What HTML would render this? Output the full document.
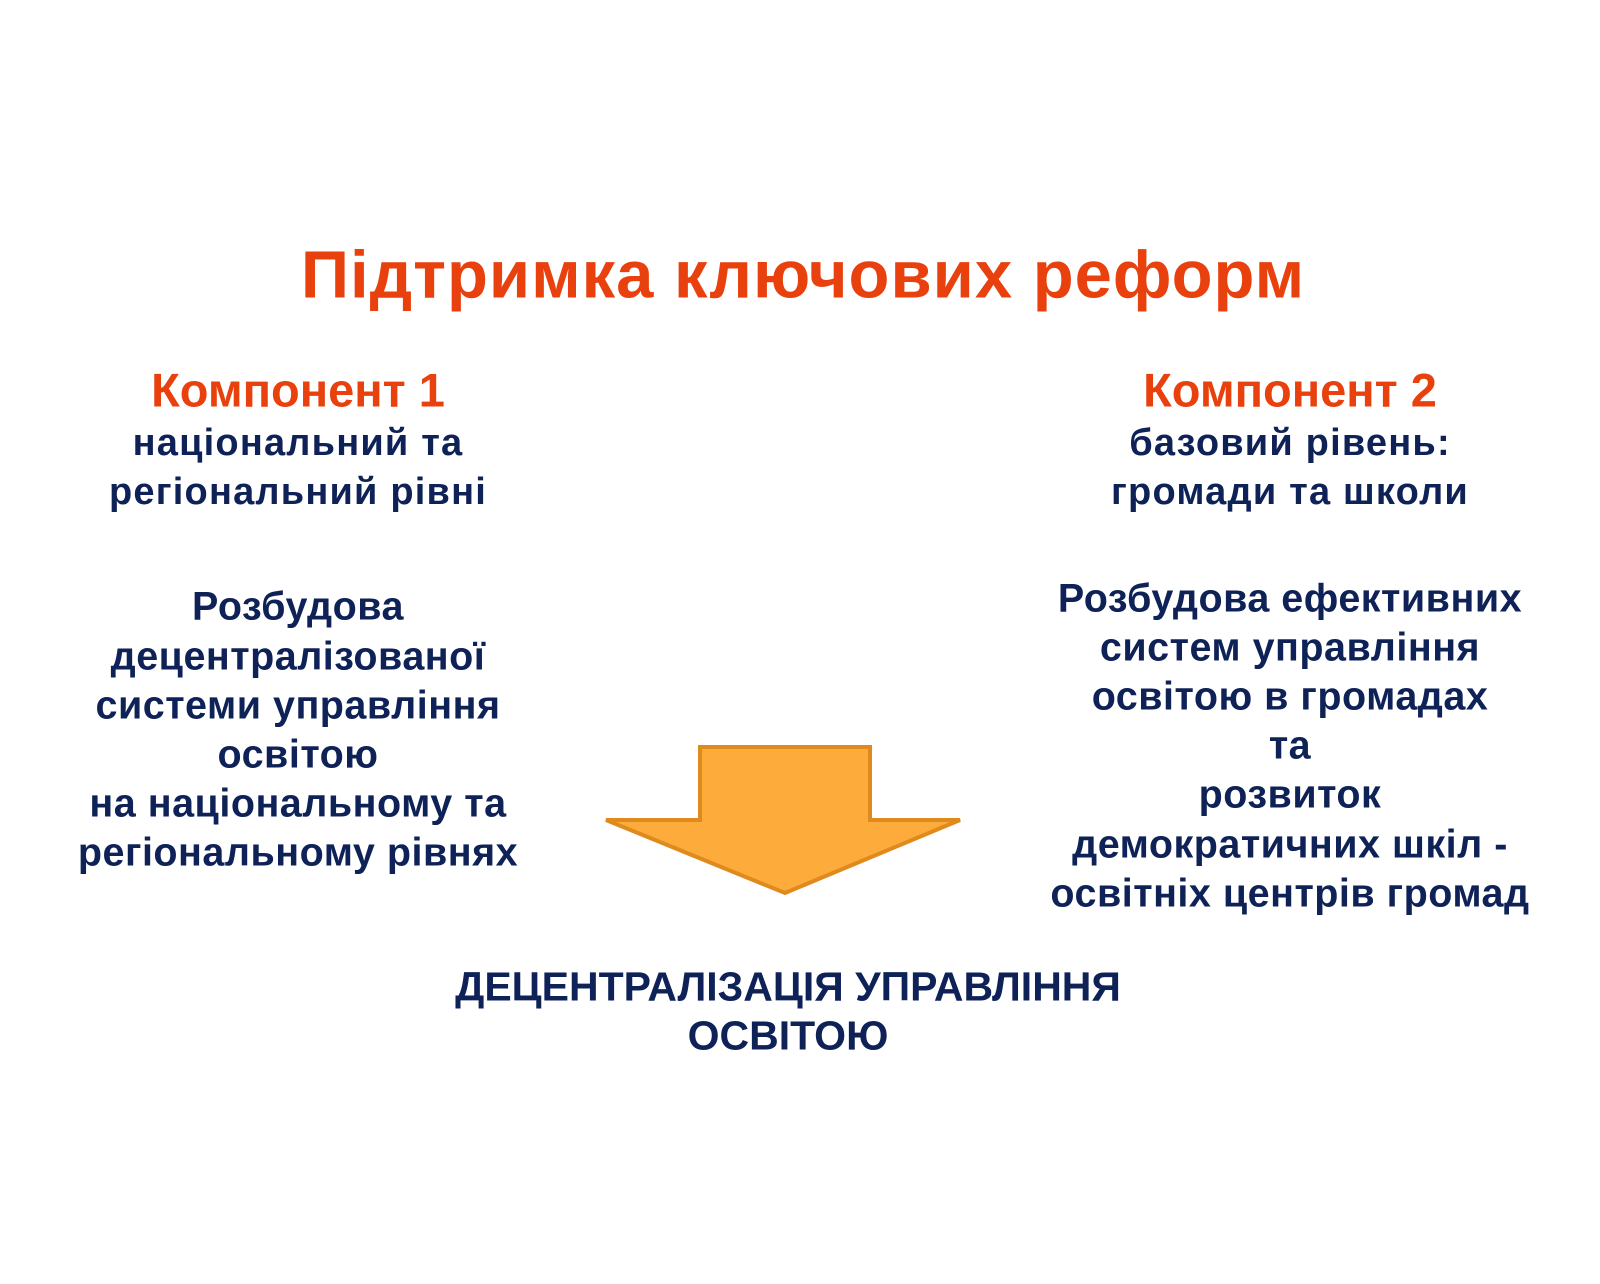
<!DOCTYPE html>
<html><head><meta charset="utf-8"><style>
html,body{margin:0;padding:0;background:#fff;}
body{width:1600px;height:1284px;position:relative;overflow:hidden;font-family:"Liberation Sans","DejaVu Sans",sans-serif;font-weight:bold;}
.t{position:absolute;transform:translate(-50%,-50%);white-space:nowrap;line-height:1;}
.r{color:#e8410e;}
.n{color:#0f2257;}
.b{font-size:39.5px;letter-spacing:0.5px;}
.s{font-size:38px;letter-spacing:1.2px;}
</style></head><body>
<div class="t r" style="left:803px;top:275px;font-size:67px;letter-spacing:1px;">Підтримка ключових реформ</div>

<div class="t r" style="left:298px;top:390px;font-size:47px;">Компонент 1</div>
<div class="t n s" style="left:298px;top:443px;">національний та</div>
<div class="t n s" style="left:298px;top:492px;">регіональний рівні</div>

<div class="t r" style="left:1290px;top:390px;font-size:47px;">Компонент 2</div>
<div class="t n s" style="left:1290px;top:443px;">базовий рівень:</div>
<div class="t n s" style="left:1290px;top:492px;">громади та школи</div>

<div class="t n b" style="left:298px;top:607px;">Розбудова</div>
<div class="t n b" style="left:298px;top:657px;">децентралізованої</div>
<div class="t n b" style="left:298px;top:706px;">системи управління</div>
<div class="t n b" style="left:298px;top:755px;">освітою</div>
<div class="t n b" style="left:298px;top:804px;">на національному та</div>
<div class="t n b" style="left:298px;top:853px;">регіональному рівнях</div>

<div class="t n b" style="left:1290px;top:599px;">Розбудова ефективних</div>
<div class="t n b" style="left:1290px;top:648px;">систем управління</div>
<div class="t n b" style="left:1290px;top:697px;">освітою в громадах</div>
<div class="t n b" style="left:1290px;top:746px;">та</div>
<div class="t n b" style="left:1290px;top:795px;">розвиток</div>
<div class="t n b" style="left:1290px;top:845px;">демократичних шкіл -</div>
<div class="t n b" style="left:1290px;top:894px;">освітніх центрів громад</div>

<svg style="position:absolute;left:0;top:0" width="1600" height="1284">
<polygon points="700,747 870,747 870,820 960,820 785,893 606,820 700,820" fill="#fdab3a" stroke="#e08a1e" stroke-width="4" stroke-linejoin="miter"/>
</svg>

<div class="t n" style="left:788px;top:987px;font-size:41px;">ДЕЦЕНТРАЛІЗАЦІЯ УПРАВЛІННЯ</div>
<div class="t n" style="left:788px;top:1036px;font-size:41px;">ОСВІТОЮ</div>
</body></html>
